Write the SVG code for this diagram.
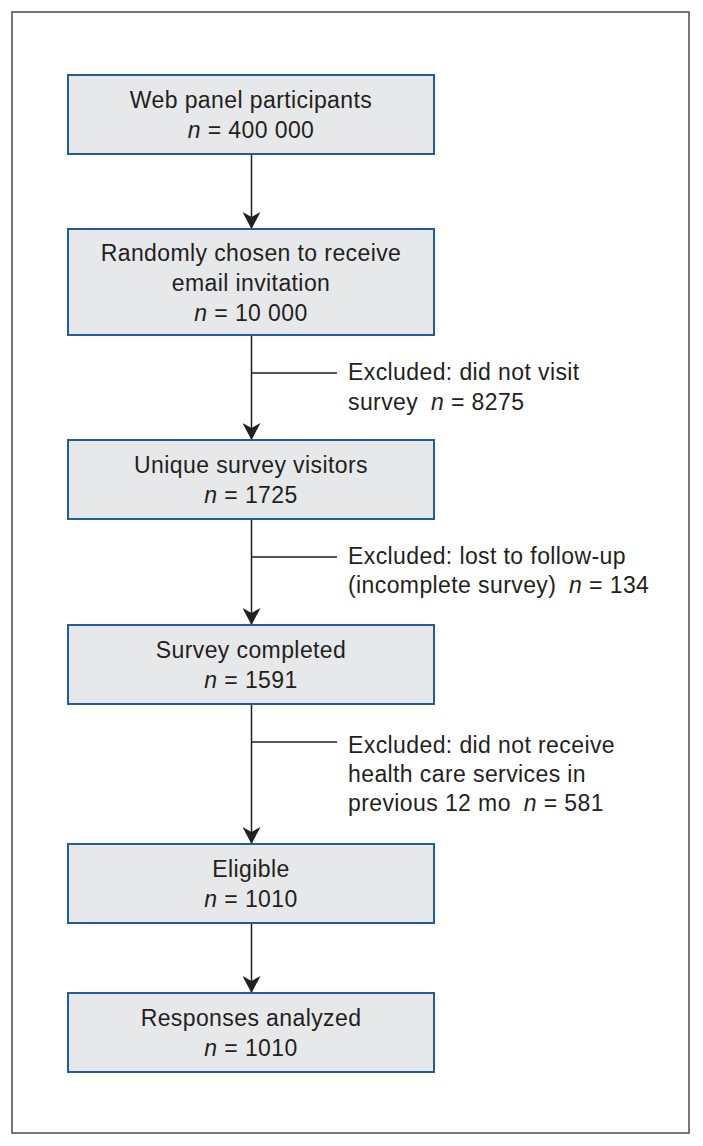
<svg xmlns="http://www.w3.org/2000/svg" width="703" height="1146" viewBox="0 0 703 1146">
<style>
.frame{fill:#ffffff;stroke:#555555;stroke-width:1.6}
.box{fill:#e7e8ea;stroke:#1f5f99;stroke-width:2}
text{font-family:"Liberation Sans",Arial,Helvetica,sans-serif;font-size:23px;fill:#231f20;letter-spacing:0.4px}
.c{text-anchor:middle}
.i{font-style:italic}
.ln{stroke:#231f20;stroke-width:1.5;fill:none}
</style>
<defs>
<marker id="ah" markerUnits="userSpaceOnUse" viewBox="0 0 17 18" refX="17" refY="9" markerWidth="17" markerHeight="18" orient="auto">
<path d="M0,0 L17,9 L0,18 L5,9 Z" fill="#231f20"/>
</marker>
</defs>
<rect class="frame" x="12" y="12" width="677" height="1121"/>
<g id="connectors">
<line class="ln" x1="251.5" y1="154" x2="251.5" y2="229" marker-end="url(#ah)"/>
<line class="ln" x1="251.5" y1="335" x2="251.5" y2="440" marker-end="url(#ah)"/>
<line class="ln" x1="251.5" y1="373" x2="337" y2="373"/>
<line class="ln" x1="251.5" y1="519" x2="251.5" y2="625" marker-end="url(#ah)"/>
<line class="ln" x1="251.5" y1="557" x2="337" y2="557"/>
<line class="ln" x1="251.5" y1="704" x2="251.5" y2="844" marker-end="url(#ah)"/>
<line class="ln" x1="251.5" y1="742" x2="337" y2="742"/>
<line class="ln" x1="251.5" y1="923" x2="251.5" y2="993" marker-end="url(#ah)"/>
</g>
<g id="n1">
<rect class="box" x="68" y="75" width="366" height="79"/>
<text class="c" x="251" y="108">Web panel participants</text>
<text class="c" x="251" y="138"><tspan class="i">n</tspan> = 400 000</text>
</g>
<g id="n2">
<rect class="box" x="68" y="229" width="366" height="106"/>
<text class="c" x="251" y="261">Randomly chosen to receive</text>
<text class="c" x="251" y="291">email invitation</text>
<text class="c" x="251" y="321"><tspan class="i">n</tspan> = 10 000</text>
</g>
<g id="x1">
<text x="348" y="380">Excluded: did not visit</text>
<text x="348" y="410">survey <tspan class="i" dx="6">n</tspan> = 8275</text>
</g>
<g id="n3">
<rect class="box" x="68" y="440" width="366" height="79"/>
<text class="c" x="251" y="473">Unique survey visitors</text>
<text class="c" x="251" y="503"><tspan class="i">n</tspan> = 1725</text>
</g>
<g id="x2">
<text x="348" y="564">Excluded: lost to follow-up</text>
<text x="348" y="593">(incomplete survey) <tspan class="i" dx="6">n</tspan> = 134</text>
</g>
<g id="n4">
<rect class="box" x="68" y="625" width="366" height="79"/>
<text class="c" x="251" y="658">Survey completed</text>
<text class="c" x="251" y="688"><tspan class="i">n</tspan> = 1591</text>
</g>
<g id="x3">
<text x="348" y="753">Excluded: did not receive</text>
<text x="348" y="782">health care services in</text>
<text x="348" y="811">previous 12 mo <tspan class="i" dx="6">n</tspan> = 581</text>
</g>
<g id="n5">
<rect class="box" x="68" y="844" width="366" height="79"/>
<text class="c" x="251" y="877">Eligible</text>
<text class="c" x="251" y="907"><tspan class="i">n</tspan> = 1010</text>
</g>
<g id="n6">
<rect class="box" x="68" y="993" width="366" height="79"/>
<text class="c" x="251" y="1026">Responses analyzed</text>
<text class="c" x="251" y="1056"><tspan class="i">n</tspan> = 1010</text>
</g>
</svg>
